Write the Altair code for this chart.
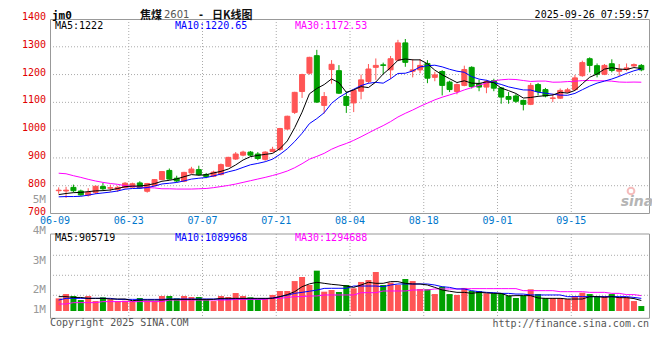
import altair as alt
import pandas as pd

# ---------------- data ----------------
tick_dates = ["06-09", "06-23", "07-07", "07-21", "08-04", "08-18", "09-01", "09-15"]
tick_index = [0, 10, 20, 30, 40, 50, 60, 70]

opens = [782, 781, 794, 781, 766, 776, 797, 791, 786, 793,
         795, 810, 780, 800, 822, 855, 827, 816, 846, 858,
         840, 834, 840, 870, 896, 910, 921, 914, 895, 923,
         931, 1004, 1064, 1139, 1205, 1268, 1089, 1218, 1214, 1121,
         1098, 1140, 1175, 1226, 1235, 1217, 1252, 1314, 1212, 1217,
         1240, 1190, 1211, 1173, 1139, 1161, 1226, 1167, 1155, 1178,
         1152, 1121, 1123, 1107, 1093, 1164, 1146, 1114, 1115, 1137,
         1146, 1196, 1257, 1232, 1201, 1239, 1212, 1218, 1231, 1233]
highs = [794, 796, 804, 786, 791, 800, 810, 804, 800, 813,
         811, 816, 810, 824, 853, 862, 836, 850, 868, 872,
         846, 854, 880, 904, 921, 926, 925, 921, 924, 940,
         1008, 1052, 1138, 1203, 1264, 1289, 1137, 1252, 1234, 1139,
         1145, 1200, 1238, 1258, 1243, 1267, 1325, 1328, 1256, 1256,
         1252, 1210, 1216, 1178, 1168, 1232, 1230, 1181, 1181, 1185,
         1155, 1137, 1130, 1110, 1170, 1170, 1152, 1131, 1150, 1152,
         1199, 1250, 1262, 1240, 1238, 1255, 1238, 1240, 1240, 1238]
lows = [771, 756, 776, 764, 761, 770, 783, 779, 778, 790,
        793, 789, 775, 798, 820, 822, 812, 813, 843, 836,
        827, 831, 837, 868, 893, 906, 905, 892, 890, 920,
        925, 1000, 1058, 1116, 1200, 1098, 1060, 1167, 1130, 1062,
        1065, 1111, 1168, 1181, 1202, 1184, 1248, 1228, 1190, 1205,
        1169, 1176, 1125, 1137, 1129, 1158, 1150, 1140, 1133, 1140,
        1095, 1095, 1098, 1071, 1090, 1125, 1118, 1101, 1112, 1133,
        1143, 1192, 1208, 1190, 1198, 1208, 1195, 1212, 1228, 1212]
closes = [784, 784, 782, 767, 776, 798, 789, 793, 794, 809,
          807, 792, 808, 822, 851, 824, 817, 848, 860, 840,
          833, 849, 876, 902, 914, 921, 910, 898, 921, 931,
          1006, 1050, 1136, 1200, 1262, 1101, 1121, 1237, 1133, 1089,
          1143, 1181, 1220, 1233, 1233, 1257, 1314, 1244, 1217, 1233,
          1187, 1199, 1161, 1146, 1164, 1218, 1157, 1155, 1175, 1151,
          1119, 1111, 1104, 1093, 1161, 1139, 1123, 1116, 1143, 1145,
          1188, 1243, 1233, 1201, 1233, 1215, 1218, 1224, 1236, 1217]

ma5 = [768, 772, 775, 776, 778.6, 781.4, 782.4, 784.6, 790, 796.6,
       798.4, 799, 802, 807.6, 816, 819.4, 824.4, 832.4, 840, 837.8,
       839.6, 846, 851.6, 860, 874.8, 892.4, 904.6, 909, 912.8, 916.2,
       933.2, 961.2, 1008.8, 1064.6, 1130.8, 1149.8, 1164, 1184.2, 1170.8, 1136.2,
       1144.6, 1156.6, 1153.2, 1173.2, 1202, 1224.8, 1251.4, 1256.2, 1253, 1253,
       1239, 1216, 1199.4, 1185.2, 1171.4, 1177.6, 1169.2, 1168, 1173.8, 1171.2,
       1151.4, 1142.2, 1132, 1115.6, 1117.6, 1121.6, 1124, 1126.4, 1136.4, 1133.2,
       1143, 1167, 1190.4, 1202, 1219.6, 1225, 1220, 1218.2, 1225.2, 1222]
ma10 = [760, 761, 761, 762, 766, 771, 774, 777, 781, 787.6,
        789.9, 790.7, 793.3, 798.8, 806.3, 808.9, 811.7, 817.2, 823.8, 826.9,
        829.5, 835.2, 842, 850, 856.3, 866, 875.3, 880.3, 886.4, 895.5,
        912.8, 932.9, 958.9, 988.7, 1023.5, 1041.5, 1062.6, 1096.5, 1117.7, 1133.5,
        1147.2, 1160.3, 1168.7, 1172, 1169.1, 1184.7, 1204, 1204.7, 1213.1, 1227.5,
        1231.9, 1233.7, 1227.8, 1219.1, 1212.2, 1208.3, 1192.6, 1183.7, 1179.5, 1171.3,
        1164.5, 1155.7, 1150, 1144.7, 1144.4, 1136.5, 1133.1, 1129.2, 1126, 1125.4,
        1132.3, 1145.5, 1158.4, 1169.2, 1176.4, 1184, 1193.5, 1204.3, 1213.6, 1220.65]
ma30 = [845, 843, 836, 830, 823, 817, 812, 808, 805, 800,
        798, 795, 793, 792, 789, 789, 788, 788, 788, 789,
        790, 793, 797, 801, 806, 812, 818, 824, 830, 836.7,
        844.1, 852.9, 864.7, 879.2, 895.4, 905.5, 916.5, 931.3, 942.6, 952,
        963.2, 976.1, 989.9, 1003.6, 1016.3, 1030.7, 1047.3, 1060.5, 1072.4, 1085.5,
        1097.3, 1109, 1118.5, 1126.6, 1134.9, 1144.8, 1153.1, 1161.6, 1170.1, 1177.4,
        1181.2, 1183.2, 1182.2, 1178.6, 1175.2, 1176.5, 1176.6, 1172.5, 1172.9, 1174.7,
        1176.2, 1178.3, 1178.7, 1177.7, 1177.7, 1176.3, 1173.1, 1172.4, 1173, 1172.53]

# volume, millions of lots (as drawn)
volumes = [1.12, 1.50, 1.33, 0.97, 1.33, 0.88, 1.21, 1.03, 0.88, 0.91,
           0.88, 1.15, 0.91, 0.88, 1.33, 1.33, 1.12, 1.33, 1.24, 1.24,
           1.03, 0.88, 1.33, 1.24, 1.59, 1.33, 1.21, 1.03, 1.12, 1.42,
           1.77, 1.77, 2.65, 3.01, 2.30, 3.57, 1.71, 1.86, 1.68, 2.30,
           2.01, 2.57, 2.74, 3.45, 2.30, 2.51, 2.30, 2.83, 2.65, 1.95,
           1.92, 1.50, 2.15, 1.50, 1.42, 2.04, 1.77, 1.77, 1.56, 1.56,
           1.56, 1.36, 1.15, 1.36, 1.92, 1.50, 1.15, 1.15, 1.15, 1.06,
           1.33, 1.62, 1.50, 1.33, 1.33, 1.50, 1.24, 1.24, 0.88, 0.44]
vma5 = [1.27, 1.27, 1.20, 1.20, 1.12, 1.12, 1.12, 1.06, 1.06, 1.06,
        0.91, 0.97, 0.97, 0.97, 0.97, 1.03, 1.03, 1.03, 1.03, 1.03,
        1.03, 1.03, 1.12, 1.12, 1.12, 1.12, 1.12, 1.12, 1.12, 1.12,
        1.27, 1.45, 1.71, 2.15, 2.40, 2.54, 2.45, 2.36, 2.30, 2.21,
        2.09, 2.30, 2.54, 2.45, 2.45, 2.60, 2.60, 2.45, 2.39, 2.39,
        2.30, 2.09, 1.86, 1.75, 1.65, 1.65, 1.56, 1.65, 1.60, 1.56,
        1.56, 1.33, 1.36, 1.36, 1.36, 1.15, 1.12, 1.12, 1.12, 1.06,
        1.06, 1.06, 1.27, 1.27, 1.21, 1.27, 1.18, 1.18, 1.10, 0.93]
vma10 = [0.97, 1.12, 1.12, 1.12, 1.12, 1.12, 1.12, 1.12, 1.03, 1.03,
         1.03, 1.03, 1.03, 1.03, 1.03, 1.06, 1.06, 1.06, 1.06, 1.06,
         1.06, 1.06, 1.06, 1.06, 1.09, 1.09, 1.09, 1.09, 1.09, 1.15,
         1.27, 1.40, 1.56, 1.65, 1.75, 1.85, 2.00, 2.01, 2.01, 2.01,
         2.21, 2.21, 2.21, 2.21, 2.15, 2.30, 2.39, 2.39, 2.39, 2.39,
         2.39, 2.30, 2.15, 2.09, 1.95, 1.95, 1.80, 1.71, 1.65, 1.62,
         1.56, 1.56, 1.50, 1.50, 1.42, 1.42, 1.42, 1.42, 1.42, 1.27,
         1.27, 1.27, 1.27, 1.27, 1.27, 1.27, 1.27, 1.27, 1.20, 1.12]
vma30 = [0.62, 0.62, 0.74, 0.74, 0.74, 0.74, 0.83, 0.83, 0.83, 0.83,
         0.83, 0.83, 0.83, 0.83, 0.83, 0.97, 0.97, 0.97, 0.97, 0.97,
         0.97, 0.97, 0.97, 0.97, 1.03, 1.03, 1.03, 1.03, 1.03, 1.12,
         1.12, 1.20, 1.27, 1.27, 1.33, 1.33, 1.42, 1.42, 1.42, 1.42,
         1.42, 1.62, 1.62, 1.62, 1.77, 1.77, 1.77, 1.77, 1.86, 1.86,
         1.86, 1.95, 1.95, 1.95, 1.95, 1.95, 1.98, 1.98, 1.98, 1.98,
         1.98, 1.98, 1.98, 1.80, 1.80, 1.80, 1.80, 1.80, 1.71, 1.71,
         1.71, 1.71, 1.65, 1.65, 1.65, 1.56, 1.56, 1.45, 1.45, 1.36]

price_ticks = [700, 800, 900, 1000, 1100, 1200, 1300, 1400]
price_grid = [800, 900, 1000, 1100, 1200, 1300]
vol_label_text = ["5M", "4M", "3M", "2M", "1M"]
vol_label_pos = [9.82, 7.08, 4.42, 1.86, 0.09]
vol_grid = [4.93, 3.16, 1.39]

price_legend = ["MA5:1222", "MA10:1220.65", "MA30:1172.53"]
vol_legend = ["MA5:905719", "MA10:1089968", "MA30:1294688"]

# ---------------- styling / geometry ----------------
RED, GREEN = "#ff5555", "#00a000"
GRID, FRAME = "#aaaaaa", "#999999"
MONO, CJK = "DejaVu Sans Mono", "Noto Sans CJK SC"
W, PB = 600, 194.5          # price panel: 0..PB
VT, VB, V0 = 215, 299.3, 292  # volume panel top / bottom, zero line
PXM = 11.3                   # px per million
TY = -9                      # header row (top of text)

n = len(closes)
df = pd.DataFrame({
    "x": [i + 0.5 for i in range(n)],
    "open": opens, "high": highs, "low": lows, "close": closes,
    "ma5": ma5, "ma10": ma10, "ma30": ma30,
    "vol": volumes, "vma5": vma5, "vma10": vma10, "vma30": vma30,
})
df["dir"] = ["up" if c >= o else "down" for o, c in zip(opens, closes)]
df["zero"] = 0.0

xs = alt.Scale(domain=[0, 80], range=[0, W], nice=False, zero=False)
ps = alt.Scale(domain=[700, 1400], range=[PB, 0], nice=False, zero=False)
vs = alt.Scale(domain=[0, (V0 - VT) / PXM], range=[V0, VT], nice=False, zero=False)
cs = alt.Scale(domain=["up", "down"], range=[RED, GREEN])

X = alt.X("x:Q", scale=xs, axis=None)
one = pd.DataFrame({"a": [0]})


def txt(t, x, y, **kw):
    return alt.Chart(pd.DataFrame({"t": [t]})).mark_text(**kw).encode(
        x=alt.value(x), y=alt.value(y), text="t:N")


def frame(y0, y1):
    return alt.Chart(one).mark_rect(fill="transparent", stroke=FRAME, strokeWidth=1).encode(
        x=alt.value(0.5), x2=alt.value(W - 0.5), y=alt.value(y0), y2=alt.value(y1))


ticks_df = pd.DataFrame({"t": tick_index, "d": tick_dates})

layers = []
# grid lines
layers.append(alt.Chart(pd.DataFrame({"p": price_grid})).mark_rule(
    color=GRID, strokeDash=[1, 2]).encode(
    y=alt.Y("p:Q", scale=ps, axis=None), x=alt.value(0), x2=alt.value(W)))
layers.append(alt.Chart(ticks_df[ticks_df.t > 0]).mark_rule(
    color=GRID, strokeDash=[1, 2]).encode(
    x=alt.X("t:Q", scale=xs, axis=None), y=alt.value(0), y2=alt.value(PB)))
layers.append(alt.Chart(ticks_df[ticks_df.t > 0]).mark_rule(
    color=GRID, strokeDash=[1, 2]).encode(
    x=alt.X("t:Q", scale=xs, axis=None), y=alt.value(VT), y2=alt.value(VB)))
layers.append(alt.Chart(pd.DataFrame({"v": vol_grid})).mark_rule(
    color=GRID, strokeDash=[1, 2]).encode(
    y=alt.Y("v:Q", scale=vs, axis=None), x=alt.value(0), x2=alt.value(W)))
layers.append(frame(0.5, PB))
layers.append(frame(VT, VB))

# candles
layers.append(alt.Chart(df).mark_rule(strokeWidth=1).encode(
    x=X, y=alt.Y("low:Q", scale=ps, axis=None), y2="high:Q",
    color=alt.Color("dir:N", scale=cs, legend=None)))
layers.append(alt.Chart(df).mark_bar(size=5, strokeWidth=1).encode(
    x=X, y=alt.Y("open:Q", scale=ps, axis=None), y2="close:Q",
    color=alt.Color("dir:N", scale=cs, legend=None),
    stroke=alt.Stroke("dir:N", scale=cs, legend=None)))
for col, c in [("ma30", "#ff00ff"), ("ma10", "#0000ff"), ("ma5", "#000000")]:
    layers.append(alt.Chart(df).mark_line(color=c, strokeWidth=1).encode(
        x=X, y=alt.Y(f"{col}:Q", scale=ps, axis=None)))

# volume
layers.append(alt.Chart(df).mark_bar(size=6).encode(
    x=X, y=alt.Y("vol:Q", scale=vs, axis=None), y2="zero:Q",
    color=alt.Color("dir:N", scale=cs, legend=None)))
for col, c in [("vma30", "#ff00ff"), ("vma10", "#0000ff"), ("vma5", "#000000")]:
    layers.append(alt.Chart(df).mark_line(color=c, strokeWidth=1).encode(
        x=X, y=alt.Y(f"{col}:Q", scale=vs, axis=None)))

# axis labels
layers.append(alt.Chart(pd.DataFrame({"p": price_ticks, "t": [str(v) for v in price_ticks]})).mark_text(
    align="right", baseline="middle", font=MONO, fontSize=10, color="#e00000", dy=-2).encode(
    y=alt.Y("p:Q", scale=ps, axis=None), x=alt.value(-4), text="t:N"))
layers.append(alt.Chart(pd.DataFrame({"v": vol_label_pos, "t": vol_label_text})).mark_text(
    align="right", baseline="middle", font=MONO, fontSize=11, color="#999999").encode(
    y=alt.Y("v:Q", scale=vs, axis=None), x=alt.value(-4), text="t:N"))
layers.append(alt.Chart(ticks_df).mark_text(
    align="center", baseline="middle", font=MONO, fontSize=10, color="#0077cc").encode(
    x=alt.X("t:Q", scale=xs, axis=None), y=alt.value(202), text="d:N"))

# legends
for t, x, c in zip(price_legend, [5, 125, 245], ["#000000", "#0000ff", "#ff00ff"]):
    layers.append(txt(t, x, 6.5, align="left", baseline="middle", font=MONO, fontSize=10, color=c))
for t, x, c in zip(vol_legend, [5, 125, 245], ["#000000", "#0000ff", "#ff00ff"]):
    layers.append(txt(t, x, 219, align="left", baseline="middle", font=MONO, fontSize=10, color=c))

# header / footer
layers.append(txt("jm0", 2, TY, align="left", baseline="top", font=MONO, fontSize=11,
                  fontWeight="bold", color="#000000"))
layers.append(txt("焦煤", 90, TY, align="left", baseline="top", font=CJK, fontSize=11,
                  fontWeight="bold", color="#111111"))
layers.append(txt("2601", 114, TY, align="left", baseline="top", font="DejaVu Sans", fontSize=10,
                  color="#555555"))
layers.append(txt("-", 148, TY, align="left", baseline="top", font=MONO, fontSize=10,
                  fontWeight="bold", color="#111111"))
layers.append(txt("日K线图", 162, TY, align="left", baseline="top", font=CJK, fontSize=11,
                  fontWeight="bold", color="#111111"))
layers.append(txt("2025-09-26 07:59:57", W - 1, TY, align="right", baseline="top", font=MONO,
                  fontSize=10, color="#000000"))
layers.append(txt("Copyright 2025 SINA.COM", 0, 304, align="left", baseline="middle", font=MONO,
                  fontSize=10, color="#555555"))
layers.append(txt("http://finance.sina.com.cn", W - 1, 305, align="right", baseline="middle",
                  font=MONO, fontSize=10, color="#555555"))
layers.append(txt("sina", 587, 183, align="center", baseline="middle", font="DejaVu Sans",
                  fontSize=14, fontStyle="italic", fontWeight="bold", color="#b5b5b5"))
layers.append(alt.Chart(one).mark_point(shape="circle", size=45, filled=False, color="#f2a0a0",
                                        strokeWidth=2).encode(x=alt.value(581), y=alt.value(172)))

chart = alt.layer(*layers).resolve_scale(y="independent").properties(
    width=W, height=300,
    autosize=alt.AutoSizeParams(type="none"),
    padding={"left": 42, "top": 11, "right": 2, "bottom": 30},
    background="white",
).configure_view(strokeWidth=0)

chart.save("out.html", embed_options={"renderer": "svg", "actions": False})
